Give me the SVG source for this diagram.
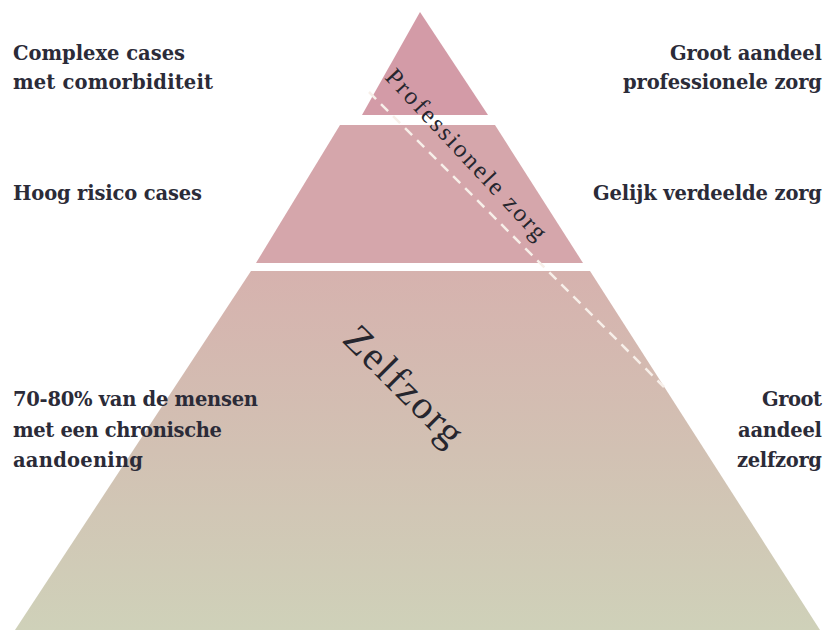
<svg xmlns="http://www.w3.org/2000/svg" width="823" height="630" viewBox="0 0 823 630">
<defs>
<linearGradient id="gBottom" x1="0" y1="271" x2="0" y2="630" gradientUnits="userSpaceOnUse">
<stop offset="0" stop-color="#d6b2ae"/>
<stop offset="0.5" stop-color="#d2c1b3"/>
<stop offset="1" stop-color="#cfd1b9"/>
</linearGradient>
<style>
.side{font-family:"DejaVu Serif","Liberation Serif",serif;font-weight:bold;font-size:19.5px;fill:#2b2b38}
.diag{font-family:"Liberation Serif","DejaVu Serif",serif;fill:#26262e}
.dash{stroke:#f7efe9;stroke-width:2.5;stroke-dasharray:10 7;fill:none}
</style>
</defs>
<rect width="823" height="630" fill="#ffffff"/>
<g id="level-top">
<polygon points="420,12 488,115 362,115" fill="#d39ba7"/>
</g>
<g id="level-middle">
<polygon points="340,125 495,125 583,263 256,263" fill="#d5a6ab"/>
</g>
<g id="level-bottom">
<polygon points="251,271 590,271 820,630 15,630" fill="url(#gBottom)"/>
</g>
<g id="connectors">
<line class="dash" x1="369" y1="92" x2="664" y2="387"/>
</g>
<g id="label-professionele">
<text class="diag" font-size="25" transform="translate(384,78) rotate(47)" textLength="224">Professionele zorg</text>
</g>
<g id="label-zelfzorg">
<text class="diag" font-size="40" transform="translate(341,341) rotate(45)" textLength="152">Zelfzorg</text>
</g>
<g id="left-labels">
<text class="side" x="13" y="60" textLength="172">Complexe cases</text>
<text class="side" x="13" y="89" textLength="200">met comorbiditeit</text>
<text class="side" x="13" y="200" textLength="189">Hoog risico cases</text>
<text class="side" x="13" y="406" textLength="245">70-80% van de mensen</text>
<text class="side" x="13" y="437" textLength="209">met een chronische</text>
<text class="side" x="13" y="467" textLength="130">aandoening</text>
</g>
<g id="right-labels">
<text class="side" x="670" y="60" textLength="152">Groot aandeel</text>
<text class="side" x="623" y="89" textLength="199">professionele zorg</text>
<text class="side" x="593" y="200" textLength="229">Gelijk verdeelde zorg</text>
<text class="side" x="762" y="406" textLength="60">Groot</text>
<text class="side" x="738" y="437" textLength="84">aandeel</text>
<text class="side" x="737" y="467" textLength="85">zelfzorg</text>
</g>
</svg>
